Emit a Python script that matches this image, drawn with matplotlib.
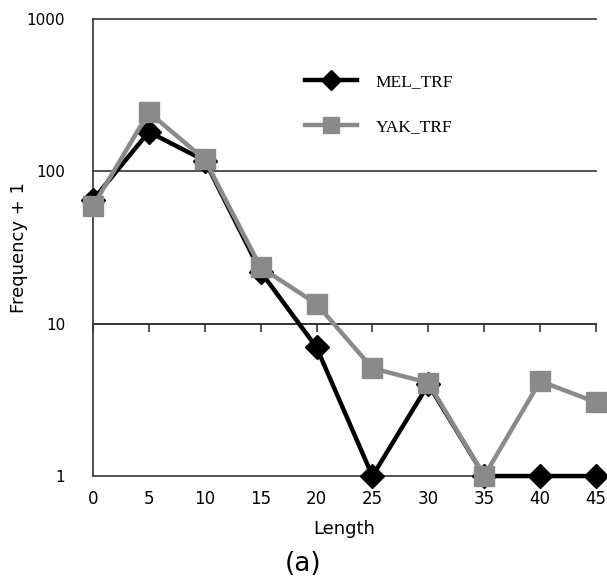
import matplotlib.pyplot as plt
from matplotlib.ticker import FixedLocator, NullLocator

lengths = [0, 5, 10, 15, 20, 25, 30, 35, 40, 45]
mel_trf = [65, 182, 118, 22, 7, 1, 4, 1, 1, 1]
yak_trf = [59, 245, 120, 23.5, 13.5, 5.1, 4.1, 1, 4.2, 3.05]
y_ticks = [1, 10, 100, 1000]
y_tick_labels = ["1", "10", "100", "1000"]

GRAY = "#8a8a8a"

fig = plt.figure(figsize=(6.07, 5.83), dpi=100)
ax = fig.add_axes([0.153, 0.1835, 0.829, 0.7835])

ax.set_yscale("log")
ax.set_ylim(1, 1000)
ax.set_xlim(0, 45)

ax.plot(lengths, mel_trf, color="black", lw=3.2, marker="D", ms=12,
        label="MEL_TRF", zorder=3, clip_on=False)
ax.plot(lengths, yak_trf, color=GRAY, lw=3.2, marker="s", ms=14,
        label="YAK_TRF", zorder=4, clip_on=False)

# horizontal gridlines on decades
for v in y_ticks:
    ax.axhline(v, color="#333333", lw=1.2, zorder=1, clip_on=False)

for s in ["top", "right"]:
    ax.spines[s].set_visible(False)
ax.spines["left"].set_linewidth(1.2)
ax.spines["left"].set_color("#333333")

# Excel style: horizontal axis crosses at 10, labels kept low
ax.spines["bottom"].set_position(("data", 10))
ax.spines["bottom"].set_linewidth(1.2)
ax.spines["bottom"].set_color("#333333")
ax.set_xticks(lengths)
ax.tick_params(axis="x", direction="out", length=6, width=1.2,
               color="#333333", labelbottom=False)

sec = ax.secondary_xaxis("bottom")
sec.set_xticks(lengths)
sec.tick_params(length=0, labelsize=12, pad=10)
sec.spines["bottom"].set_visible(False)
sec.set_xlabel("Length", fontsize=13, labelpad=9)

ax.yaxis.set_major_locator(FixedLocator(y_ticks))
ax.yaxis.set_minor_locator(NullLocator())
ax.set_yticklabels(y_tick_labels)
ax.tick_params(axis="y", length=0, labelsize=11, pad=20)
ax.set_ylabel("Frequency + 1", fontsize=13)
ax.yaxis.set_label_coords(-0.128, 0.5)

leg = ax.legend(loc="upper left", bbox_to_anchor=(0.39, 0.915), frameon=False,
                prop={"family": "Liberation Serif", "size": 12.5},
                handlelength=3.0, labelspacing=1.7, handletextpad=1.1,
                markerscale=0.85)

fig.text(0.5, 0.02, "(a)", fontsize=19, ha="center")

fig.savefig("out.png", dpi=100)
